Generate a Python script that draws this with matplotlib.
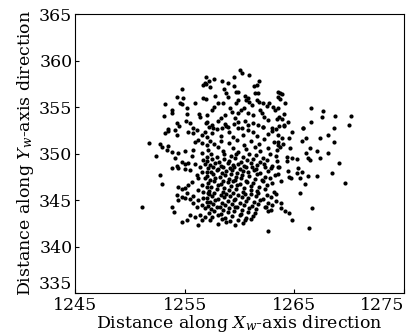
import numpy as np
import matplotlib.pyplot as plt

# points, grouped by region (x in Xw, y in Yw)
upper_pts = [
    (1256.94, 358.19), (1256.85, 357.61), (1256.70, 357.37), (1256.97, 357.44),
    (1254.73, 356.90), (1254.33, 356.04), (1254.87, 356.00), (1256.70, 356.00),
    (1256.94, 355.83), (1254.60, 355.46), (1254.73, 355.29), (1255.94, 355.46),
    (1253.20, 355.35), (1255.21, 354.86), (1253.87, 354.68), (1253.82, 354.32),
    (1253.14, 354.03), (1255.18, 354.22), (1256.28, 354.25), (1256.39, 353.89),
    (1257.03, 354.17), (1256.94, 353.25), (1255.12, 353.53), (1255.48, 353.25),
    (1254.27, 353.25), (1254.48, 352.96), (1253.50, 352.60), (1254.12, 352.53),
    (1255.78, 352.71),
    (1260.04, 358.98), (1260.25, 358.69), (1260.89, 358.47), (1259.52, 358.26),
    (1257.22, 357.83), (1258.37, 357.83), (1257.70, 358.01), (1258.97, 357.55),
    (1261.77, 357.83), (1261.62, 357.37), (1261.34, 357.26), (1259.52, 357.26),
    (1257.33, 357.18), (1258.61, 356.90), (1259.68, 356.65), (1259.89, 356.61),
    (1261.41, 356.47), (1261.71, 356.54), (1263.48, 356.65), (1263.53, 356.11),
    (1258.74, 356.54), (1258.92, 356.11), (1257.76, 356.18), (1260.50, 356.18),
    (1260.80, 355.94), (1260.62, 355.75), (1261.56, 355.75), (1261.77, 355.54),
    (1259.89, 355.75), (1259.65, 355.46), (1258.06, 355.40), (1258.52, 355.40),
    (1260.86, 355.57), (1261.11, 355.22), (1262.17, 355.46), (1262.48, 355.11),
    (1262.68, 355.40), (1263.02, 355.03), (1263.23, 354.68), (1260.43, 354.92),
    (1260.13, 354.68), (1259.89, 354.32), (1259.13, 354.86), (1259.28, 354.49),
    (1257.52, 354.68), (1257.70, 355.03), (1261.86, 354.68), (1262.07, 354.32),
    (1260.80, 354.39), (1261.25, 354.14), (1258.67, 354.14), (1258.31, 353.78),
    (1258.06, 353.53), (1257.00, 353.42), (1262.25, 353.96), (1262.62, 353.60),
    (1263.38, 353.68), (1263.60, 352.96), (1259.58, 353.78), (1259.89, 353.42),
    (1259.52, 353.14), (1260.50, 353.53), (1260.80, 353.06), (1261.25, 353.25),
    (1261.71, 353.06), (1262.17, 352.88), (1258.67, 353.17), (1258.97, 352.88),
    (1258.37, 352.71), (1257.46, 353.06), (1257.61, 352.71), (1262.92, 352.71),
    (1260.19, 352.71),
    (1263.69, 356.54), (1263.90, 356.37), (1263.66, 355.83), (1264.14, 355.46),
    (1263.48, 354.86), (1264.05, 354.25), (1263.60, 353.89), (1263.84, 353.68),
    (1264.38, 353.42), (1264.07, 353.06), (1266.48, 354.92), (1267.58, 354.60),
    (1267.49, 353.89), (1268.70, 354.06), (1266.51, 353.39), (1265.76, 352.74),
    (1268.58, 352.74),
]

left_pts = [
    (1253.50, 352.42), (1253.20, 352.17), (1255.33, 352.34), (1255.78, 352.17),
    (1256.09, 352.53), (1254.27, 351.99), (1256.85, 352.34), (1256.55, 351.99),
    (1257.00, 351.81), (1251.77, 351.10), (1252.75, 350.99), (1252.90, 350.73),
    (1253.50, 350.84), (1255.94, 351.20), (1256.24, 351.45), (1256.55, 351.10),
    (1257.00, 350.91), (1253.36, 350.38), (1253.82, 350.19), (1252.36, 349.76),
    (1254.42, 350.02), (1255.03, 350.27), (1255.78, 350.38), (1255.64, 349.76),
    (1256.55, 350.02), (1257.00, 349.66), (1256.70, 349.30), (1254.12, 349.55),
    (1254.73, 349.12), (1255.03, 348.84), (1254.27, 348.69), (1255.33, 348.95),
    (1255.94, 348.84), (1256.39, 348.58), (1256.85, 348.84), (1253.82, 348.41),
    (1254.42, 348.47), (1255.03, 348.33), (1255.48, 348.23), (1257.00, 348.04),
    (1256.55, 348.04), (1256.09, 347.69), (1256.24, 347.33), (1252.75, 347.69),
    (1256.85, 347.33), (1252.90, 346.69), (1255.64, 346.97), (1255.33, 346.61),
    (1256.55, 346.61), (1257.00, 346.43), (1254.42, 346.43), (1254.73, 346.15),
    (1255.03, 346.26), (1256.24, 346.08), (1256.70, 345.89),
    (1251.08, 344.28), (1253.82, 344.28), (1254.05, 343.74), (1254.27, 345.54),
    (1254.73, 345.35), (1255.18, 345.72), (1255.03, 345.18), (1254.42, 345.00),
    (1255.48, 345.08), (1255.78, 345.43), (1256.24, 345.00), (1256.70, 345.18),
    (1257.00, 344.82), (1257.15, 345.72), (1255.78, 344.65), (1256.09, 344.28),
    (1256.55, 344.46), (1256.85, 344.11), (1255.48, 343.39), (1255.94, 343.20),
    (1256.39, 343.39), (1256.85, 343.20), (1256.55, 342.85), (1254.73, 342.67),
    (1255.18, 342.85), (1256.18, 342.34),
]

# dense centre of the cloud
core_pts = [
    (1257.2, 352.9), (1257.9, 352.6), (1258.8, 353.0), (1259.9, 352.7), (1260.8, 352.5),
    (1262.1, 352.9), (1263.3, 352.6),
    (1257.5, 352.2), (1258.3, 351.9), (1259.0, 352.3), (1259.4, 351.8), (1260.3, 352.0),
    (1261.2, 352.3), (1261.6, 351.9), (1262.6, 352.1), (1263.0, 352.4),
    (1257.3, 351.4), (1257.7, 351.0), (1258.3, 351.3), (1259.0, 351.1), (1259.8, 351.5),
    (1260.4, 350.9), (1261.0, 351.3), (1261.8, 351.0), (1262.2, 351.6), (1263.1, 351.2),
    (1263.5, 350.9),
    (1257.1, 350.4), (1258.0, 350.7), (1258.5, 350.3), (1259.4, 350.6), (1259.9, 350.2),
    (1260.6, 350.5), (1261.4, 350.7), (1261.9, 350.3), (1262.6, 350.6), (1263.4, 350.4),
    (1257.4, 349.9), (1257.9, 349.6), (1258.6, 350.0), (1259.2, 349.7), (1259.7, 349.9),
    (1260.3, 349.6), (1260.9, 350.0), (1261.5, 349.8), (1262.1, 349.5), (1262.8, 349.9),
    (1263.3, 349.7),
    (1257.0, 349.2), (1257.5, 349.4), (1258.1, 349.1), (1258.6, 349.4), (1259.0, 349.2),
    (1259.6, 349.5), (1260.1, 349.1), (1260.7, 349.3), (1261.2, 349.4), (1261.9, 349.1),
    (1262.5, 349.3), (1263.4, 349.2),
    (1257.3, 348.8), (1257.8, 349.0), (1258.3, 348.7), (1258.9, 349.0), (1259.4, 348.8),
    (1259.9, 348.9), (1260.4, 348.7), (1261.0, 349.0), (1261.6, 348.8), (1262.2, 348.9),
    (1263.0, 348.7),
    (1257.1, 348.4), (1257.6, 348.6), (1258.0, 348.3), (1258.5, 348.5), (1259.1, 348.4),
    (1259.5, 348.6), (1260.0, 348.3), (1260.6, 348.5), (1261.1, 348.6), (1261.5, 348.3),
    (1262.3, 348.5), (1262.9, 348.4), (1263.6, 348.6),
    (1257.4, 348.0), (1257.9, 348.2), (1258.4, 347.9), (1258.8, 348.1), (1259.3, 348.2),
    (1259.8, 347.9), (1260.3, 348.1), (1260.8, 348.0), (1261.3, 348.2), (1261.9, 347.9),
    (1262.6, 348.1),
    (1257.0, 347.6), (1257.6, 347.8), (1258.2, 347.5), (1258.7, 347.7), (1259.2, 347.8),
    (1259.7, 347.5), (1260.2, 347.7), (1260.9, 347.6), (1261.6, 347.8), (1262.3, 347.5),
    (1263.2, 347.7),
    (1257.3, 347.2), (1257.8, 347.4), (1258.5, 347.1), (1259.0, 347.3), (1259.6, 347.2),
    (1260.1, 347.4), (1260.6, 347.1), (1261.4, 347.3), (1262.0, 347.2), (1262.8, 347.4),
    (1257.1, 346.8), (1257.7, 347.0), (1258.3, 346.7), (1258.9, 346.9), (1259.4, 347.0),
    (1260.0, 346.7), (1260.7, 346.9), (1261.2, 346.8), (1262.1, 347.0), (1263.0, 346.8),
    (1257.4, 346.4), (1258.0, 346.6), (1258.6, 346.3), (1259.2, 346.5), (1259.8, 346.6),
    (1260.4, 346.3), (1261.0, 346.5), (1261.8, 346.4), (1262.5, 346.6),
    (1257.2, 346.0), (1257.9, 346.2), (1258.5, 345.9), (1259.0, 346.1), (1259.7, 346.2),
    (1260.3, 345.9), (1261.0, 346.1), (1261.6, 346.0), (1262.3, 346.2), (1263.1, 345.9),
    (1257.2, 345.6), (1257.7, 345.8), (1258.3, 345.5), (1258.8, 345.7), (1259.4, 345.8),
    (1259.9, 345.5), (1260.5, 345.7), (1261.0, 345.6), (1261.7, 345.8), (1262.5, 345.5),
    (1263.3, 345.7),
    (1257.0, 345.2), (1257.5, 345.4), (1258.0, 345.1), (1258.6, 345.3), (1259.1, 345.4),
    (1259.6, 345.1), (1260.2, 345.3), (1260.8, 345.2), (1261.5, 345.4), (1262.1, 345.1),
    (1262.9, 345.3),
    (1257.3, 344.8), (1257.8, 345.0), (1258.4, 344.7), (1258.9, 344.9), (1259.5, 345.0),
    (1260.0, 344.7), (1260.6, 344.9), (1261.3, 344.8), (1261.9, 345.0), (1262.6, 344.7),
    (1263.3, 344.9),
    (1257.1, 344.4), (1257.6, 344.6), (1258.2, 344.3), (1258.7, 344.5), (1259.3, 344.6),
    (1259.8, 344.3), (1260.4, 344.5), (1261.1, 344.4), (1261.7, 344.6), (1262.4, 344.3),
    (1263.0, 344.5),
    (1257.4, 344.0), (1257.9, 344.2), (1258.5, 343.9), (1259.0, 344.1), (1259.6, 344.2),
    (1260.2, 343.9), (1260.9, 344.1), (1261.5, 344.0), (1262.3, 344.2), (1262.9, 343.9),
    (1257.2, 343.6), (1257.7, 343.8), (1258.3, 343.5), (1258.9, 343.7), (1259.5, 343.8),
    (1260.1, 343.5), (1260.8, 343.7), (1261.4, 343.6), (1262.6, 343.8),
    (1257.5, 343.2), (1258.0, 343.4), (1258.7, 343.1), (1259.3, 343.3), (1260.0, 343.4),
    (1260.6, 343.1), (1261.2, 343.3),
    (1257.3, 342.8), (1258.4, 343.0), (1259.1, 342.7), (1259.9, 342.9), (1260.5, 342.8),
    (1261.0, 343.0),
    (1258.0, 342.4), (1258.8, 342.6), (1259.6, 342.3), (1260.3, 342.5),
    (1262.6, 341.7),
]

right_pts = [
    (1264.08, 352.99), (1264.75, 352.34), (1265.81, 352.77), (1263.47, 351.99),
    (1263.84, 351.63), (1264.51, 351.70), (1263.53, 351.27), (1263.99, 350.99),
    (1263.69, 350.73), (1265.67, 351.34), (1266.03, 351.63), (1267.33, 351.63),
    (1268.04, 351.99), (1264.60, 350.62), (1266.42, 350.62), (1267.03, 350.27),
    (1266.06, 350.02), (1268.09, 350.02), (1264.30, 349.66), (1264.75, 349.48),
    (1265.21, 349.41), (1264.30, 349.19), (1266.27, 349.48), (1266.42, 349.30),
    (1267.33, 349.48), (1263.47, 348.58), (1264.38, 348.12), (1265.30, 348.47),
    (1265.67, 348.04), (1265.21, 347.94), (1263.47, 347.76), (1264.51, 347.51),
    (1264.69, 347.33), (1265.51, 347.40), (1266.27, 347.58), (1267.03, 347.58),
    (1263.78, 347.04), (1265.97, 346.69), (1265.51, 345.72),
    (1263.80, 344.70), (1266.60, 344.10), (1263.80, 344.10), (1264.10, 343.80),
    (1264.50, 343.60), (1264.75, 342.85), (1266.30, 341.95),
    (1270.20, 354.00), (1270.00, 353.10), (1268.60, 351.20), (1269.10, 349.00),
    (1268.40, 347.90), (1269.60, 346.80),
]

pts = upper_pts + left_pts + core_pts + right_pts
x = np.array([p[0] for p in pts])
y = np.array([p[1] for p in pts])

plt.rcParams['font.family'] = 'DejaVu Serif'
plt.rcParams['mathtext.fontset'] = 'dejavuserif'

fig = plt.figure(figsize=(4.17, 3.36), dpi=100)
ax = fig.add_axes([0.18, 0.128, 0.789, 0.830])
ax.scatter(x, y, s=9, c='k', linewidths=0)

ax.set_xlim(1245, 1275)
ax.set_ylim(335, 365)
ax.set_xticks([1245, 1255, 1265, 1275])
ax.set_yticks([335, 340, 345, 350, 355, 360, 365])
ax.tick_params(direction='in', length=3, labelsize=12.5, pad=2)
ax.tick_params(axis='x', pad=3)
ax.get_xticklabels()[-1].set_ha('right')
ax.get_yticklabels()[0].set_va('bottom')
for s in ax.spines.values():
    s.set_linewidth(0.8)

ax.set_xlabel(r'Distance along $X_{w}$-axis direction', fontsize=12.5, labelpad=-1)
ax.set_ylabel(r'Distance along $Y_{w}$-axis direction', fontsize=12.5, labelpad=2)

fig.savefig('out.png', dpi=100)
